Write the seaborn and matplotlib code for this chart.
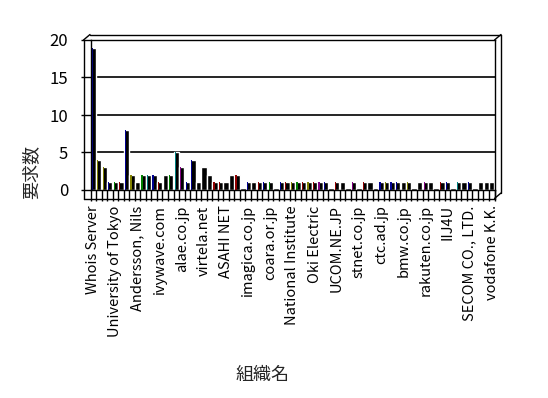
import matplotlib.pyplot as plt
import matplotlib.transforms as mtransforms
from matplotlib.lines import Line2D
import numpy as np
import pandas as pd
import seaborn as sns

# organisation names shown on the axis (every 4th category is labelled)
labeled_orgs = [
    "Whois Server", "University of Tokyo", "Andersson, Nils", "ivywave.com",
    "alae.co.jp", "virtela.net", "ASAHI NET", "imagica.co.jp", "coara.or.jp",
    "National Institute", "Oki Electric", "UCOM.NE.JP", "stnet.co.jp",
    "ctc.ad.jp", "bmw.co.jp", "rakuten.co.jp", "IIJ4U", "SECOM CO., LTD.",
    "vodafone K.K.",
]

# number of requests per organisation
counts = [
    19, 4, 3, 1, 1, 1, 8, 2, 1, 2, 2, 2, 1, 2, 2, 5, 3, 1, 4, 1,
    3, 2, 1, 1, 1, 2, 2, 0, 1, 1, 1, 1, 1, 0, 1, 1, 1, 1, 1, 1,
    1, 1, 1, 0, 1, 1, 0, 1, 0, 1, 1, 0, 1, 1, 1, 1, 1, 1, 0, 1,
    1, 1, 0, 1, 1, 0, 1, 1, 1, 0, 1, 1, 1,
]

# colour of the front face of each bar (k = plain black)
series = [
    "b", "o", "o", "b", "g", "r", "b", "o", "k", "g", "t", "b", "r", "k", "g", "t", "m", "b", "b", "k",
    "k", "k", "r", "r", "k", "k", "r", "k", "b", "k", "r", "b", "g", "k", "b", "r", "o", "g", "r", "o",
    "r", "m", "b", "k", "r", "k", "k", "m", "k", "r", "k", "k", "b", "o", "b", "b", "k", "o", "k", "k",
    "m", "k", "k", "r", "b", "k", "t", "k", "b", "k", "k", "k", "k",
]

series_colors = {
    "k": "#000000", "b": "#000090", "r": "#900000", "g": "#008000",
    "o": "#808000", "t": "#008080", "m": "#800080",
}

n = len(counts)
orgs = [labeled_orgs[i // 4] if i % 4 == 0 else f"org{i:02d}" for i in range(n)]
df = pd.DataFrame({"org": orgs, "count": counts, "series": series})

sns.set_style("white")
plt.rcParams["font.family"] = ["Noto Sans CJK JP", "DejaVu Sans"]

W, H = 548, 398
L, R, B, T = 90.5, 494.5, H - 190, H - 40
fig = plt.figure(figsize=(W / 100, H / 100), dpi=100)
ax = fig.add_axes([L / W, B / H, (R - L) / W, (T - B) / H])

# dark bar bodies
sns.barplot(data=df, x="org", y="count", order=orgs, color="black",
            saturation=1, width=0.95, errorbar=None, ax=ax)
n_black = len(ax.patches)

# coloured front faces
front = df[df["series"] != "k"]
sns.barplot(data=front, x="org", y="count", order=orgs, hue="series",
            palette=series_colors, saturation=1, dodge=False, width=0.22,
            errorbar=None, legend=False, ax=ax)
for p in ax.patches[n_black:]:
    p.set_x(p.get_x() - 0.2)
    p.set_linewidth(0)

ax.set_xlim(-0.5, n - 0.5)
ax.set_ylim(0, 20)
ax.set_yticks([0, 5, 10, 15, 20])
ax.yaxis.grid(True, color="black", lw=1.2)
ax.set_axisbelow(True)
for s in ax.spines.values():
    s.set_color("black")
    s.set_linewidth(1)

ax.set_xticks(np.arange(0, n, 4))
ax.set_xticklabels(labeled_orgs, rotation=90, ha="center", va="top")
ax.set_xticks(np.arange(-0.5, n, 1), minor=True)
ax.tick_params(axis="x", which="major", length=0, pad=11, labelsize=10.5, colors="black")
ax.tick_params(axis="x", which="minor", length=8, width=1, direction="out", color="black", bottom=True)
ax.tick_params(axis="y", length=7, width=1, direction="out", pad=9, labelsize=12, colors="black", left=True)

ax.set_xlabel("組織名", fontsize=13)
ax.set_ylabel("要求数", fontsize=13)
ax.xaxis.set_label_coords(0.425, -1.17)
ax.yaxis.set_label_coords(-0.125, 0.12)

# pseudo-3D frame (walls and floor)
ident = mtransforms.IdentityTransform()
frame = [
    ([L - 7, L - 7], [B - 8.5, T]),
    ([L - 7, L - 0.5], [T, T + 5.5]),
    ([L - 0.5, R + 6.5], [T + 5.5, T + 5.5]),
    ([R, R + 6.5], [T, T + 5.5]),
    ([R + 6.5, R + 6.5], [T + 5.5, B - 3]),
    ([R + 6.5, R], [B - 3, B - 8.5]),
    ([L - 7, R], [B - 8.5, B - 8.5]),
    ([R, R], [B - 8.5, B]),
]
for xs, ys in frame:
    fig.add_artist(Line2D(xs, ys, transform=ident, color="black", lw=1))

fig.savefig("out.png", dpi=100)
